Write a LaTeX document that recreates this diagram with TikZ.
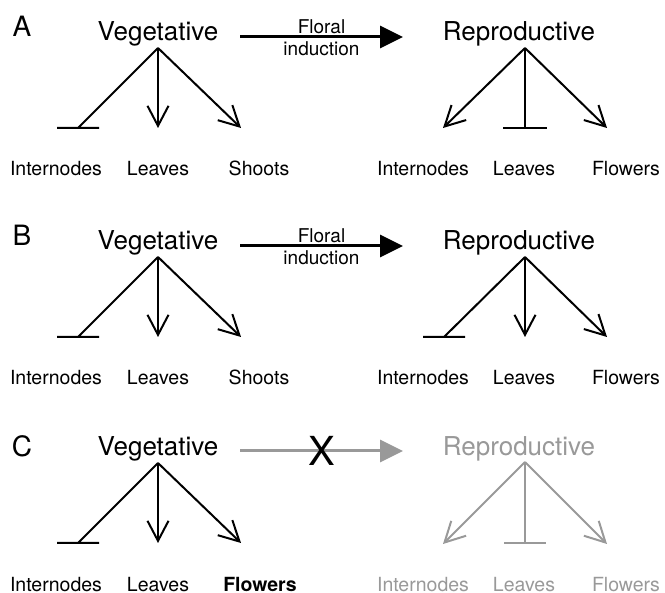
\documentclass[tikz,border=0pt]{standalone}
\usepackage{fontspec}
\setmainfont{TeX Gyre Heros}
\usetikzlibrary{arrows.meta}

\begin{document}
\begin{tikzpicture}[
    x=0.5pt, y=-0.5pt,
    every node/.style={inner sep=0pt},
    panel/.style={font=\fontsize{14}{16}\selectfont, anchor=base},
    stage/.style={font=\fontsize{13}{15}\selectfont, anchor=base},
    organ/.style={font=\fontsize{9.75}{11}\selectfont, anchor=base},
    induction/.style={font=\fontsize{9.5}{11}\selectfont},
    promote/.style={line width=1pt, -{Straight Barb[length=10pt,width=10.5pt]}},
    repress/.style={line width=1pt},
    induct/.style={line width=1.5pt, -{Triangle[length=11.5pt,width=11pt]}},
    faded/.style={color=black!40}
]
\useasboundingbox (0,0) rectangle (665,593);

% A: floral induction, leaves repressed after transition
\begin{scope}
  \node[panel] (pA) at (22,37) {A};
  \node[stage] (vegA) at (158,41) {Vegetative};
  \node[stage] (repA) at (519,41) {Reproductive};
  \coordinate (indA1) at (240,37);
  \coordinate (indA2) at (403,37);
  \draw[induct] (indA1) -- (indA2)
    node[midway, induction, above=1pt] {Floral}
    node[midway, induction, below=1.6pt] {induction};
  % vegetative
  \coordinate (vTopA) at (158,48);
  \coordinate (vIntEndA) at (78,128);
  \coordinate (vLeaEndA) at (158,128);
  \coordinate (vShoEndA) at (241,128);
  \draw[repress] (vTopA) -- (vIntEndA) ++(-21,0) -- ++(42,0);
  \draw[promote] (vTopA) -- (vLeaEndA);
  \draw[promote] (vTopA) -- (vShoEndA);
  \node[organ] (vIntA) at (56,176) {Internodes};
  \node[organ] (vLeaA) at (158,176) {Leaves};
  \node[organ] (vShoA) at (259,176) {Shoots};
  % reproductive
  \coordinate (rTopA) at (525,48);
  \coordinate (rIntEndA) at (443,128);
  \coordinate (rLeaEndA) at (525,128);
  \coordinate (rFloEndA) at (607,128);
  \draw[promote] (rTopA) -- (rIntEndA);
  \draw[repress] (rTopA) -- (rLeaEndA) ++(-22,0) -- ++(44,0);
  \draw[promote] (rTopA) -- (rFloEndA);
  \node[organ] (rIntA) at (423,176) {Internodes};
  \node[organ] (rLeaA) at (524,176) {Leaves};
  \node[organ] (rFloA) at (626,176) {Flowers};
\end{scope}

% B: floral induction, same organ pattern in both phases
\begin{scope}[yshift=-104.5pt]
  \node[panel] (pB) at (22,37) {B};
  \node[stage] (vegB) at (158,41) {Vegetative};
  \node[stage] (repB) at (519,41) {Reproductive};
  \coordinate (indB1) at (240,37);
  \coordinate (indB2) at (403,37);
  \draw[induct] (indB1) -- (indB2)
    node[midway, induction, above=1pt] {Floral}
    node[midway, induction, below=1.6pt] {induction};
  % vegetative
  \coordinate (vTopB) at (158,48);
  \coordinate (vIntEndB) at (78,128);
  \coordinate (vLeaEndB) at (158,128);
  \coordinate (vShoEndB) at (241,128);
  \draw[repress] (vTopB) -- (vIntEndB) ++(-21,0) -- ++(42,0);
  \draw[promote] (vTopB) -- (vLeaEndB);
  \draw[promote] (vTopB) -- (vShoEndB);
  \node[organ] (vIntB) at (56,176) {Internodes};
  \node[organ] (vLeaB) at (158,176) {Leaves};
  \node[organ] (vShoB) at (259,176) {Shoots};
  % reproductive
  \coordinate (rTopB) at (525,48);
  \coordinate (rIntEndB) at (444,128);
  \coordinate (rLeaEndB) at (525,128);
  \coordinate (rFloEndB) at (607,128);
  \draw[repress] (rTopB) -- (rIntEndB) ++(-21,0) -- ++(42,0);
  \draw[promote] (rTopB) -- (rLeaEndB);
  \draw[promote] (rTopB) -- (rFloEndB);
  \node[organ] (rIntB) at (423,176) {Internodes};
  \node[organ] (rLeaB) at (524,176) {Leaves};
  \node[organ] (rFloB) at (626,176) {Flowers};
\end{scope}

% C: no induction, flowers straight from the vegetative phase
\begin{scope}[yshift=-207.5pt]
  \node[panel] (pC) at (22,42) {C};
  \node[stage] (vegC) at (158,41) {Vegetative};
  \node[stage, faded] (repC) at (519,41) {Reproductive};
  \coordinate (indC1) at (240,36);
  \coordinate (indC2) at (403,36);
  \draw[induct, faded] (indC1) -- (indC2);
  \node[font=\fontsize{20}{22}\selectfont] (blockC) at (322,36) {X};
  % vegetative
  \coordinate (vTopC) at (158,48);
  \coordinate (vIntEndC) at (78,128);
  \coordinate (vLeaEndC) at (158,128);
  \coordinate (vFloEndC) at (241,128);
  \draw[repress] (vTopC) -- (vIntEndC) ++(-21,0) -- ++(42,0);
  \draw[promote] (vTopC) -- (vLeaEndC);
  \draw[promote] (vTopC) -- (vFloEndC);
  \node[organ] (vIntC) at (56,176) {Internodes};
  \node[organ] (vLeaC) at (158,176) {Leaves};
  \node[organ, font=\fontsize{9.75}{11}\selectfont\bfseries] (vFloC) at (260,176) {Flowers};
  % reproductive (not reached)
  \coordinate (rTopC) at (525,47);
  \coordinate (rIntEndC) at (443,129);
  \coordinate (rLeaEndC) at (525,128);
  \coordinate (rFloEndC) at (607,129);
  \draw[promote, faded] (rTopC) -- (rIntEndC);
  \draw[repress, faded] (rTopC) -- (rLeaEndC) ++(-21,0) -- ++(42,0);
  \draw[promote, faded] (rTopC) -- (rFloEndC);
  \node[organ, faded] (rIntC) at (423,176) {Internodes};
  \node[organ, faded] (rLeaC) at (524,176) {Leaves};
  \node[organ, faded] (rFloC) at (626,176) {Flowers};
\end{scope}
\end{tikzpicture}
\end{document}
